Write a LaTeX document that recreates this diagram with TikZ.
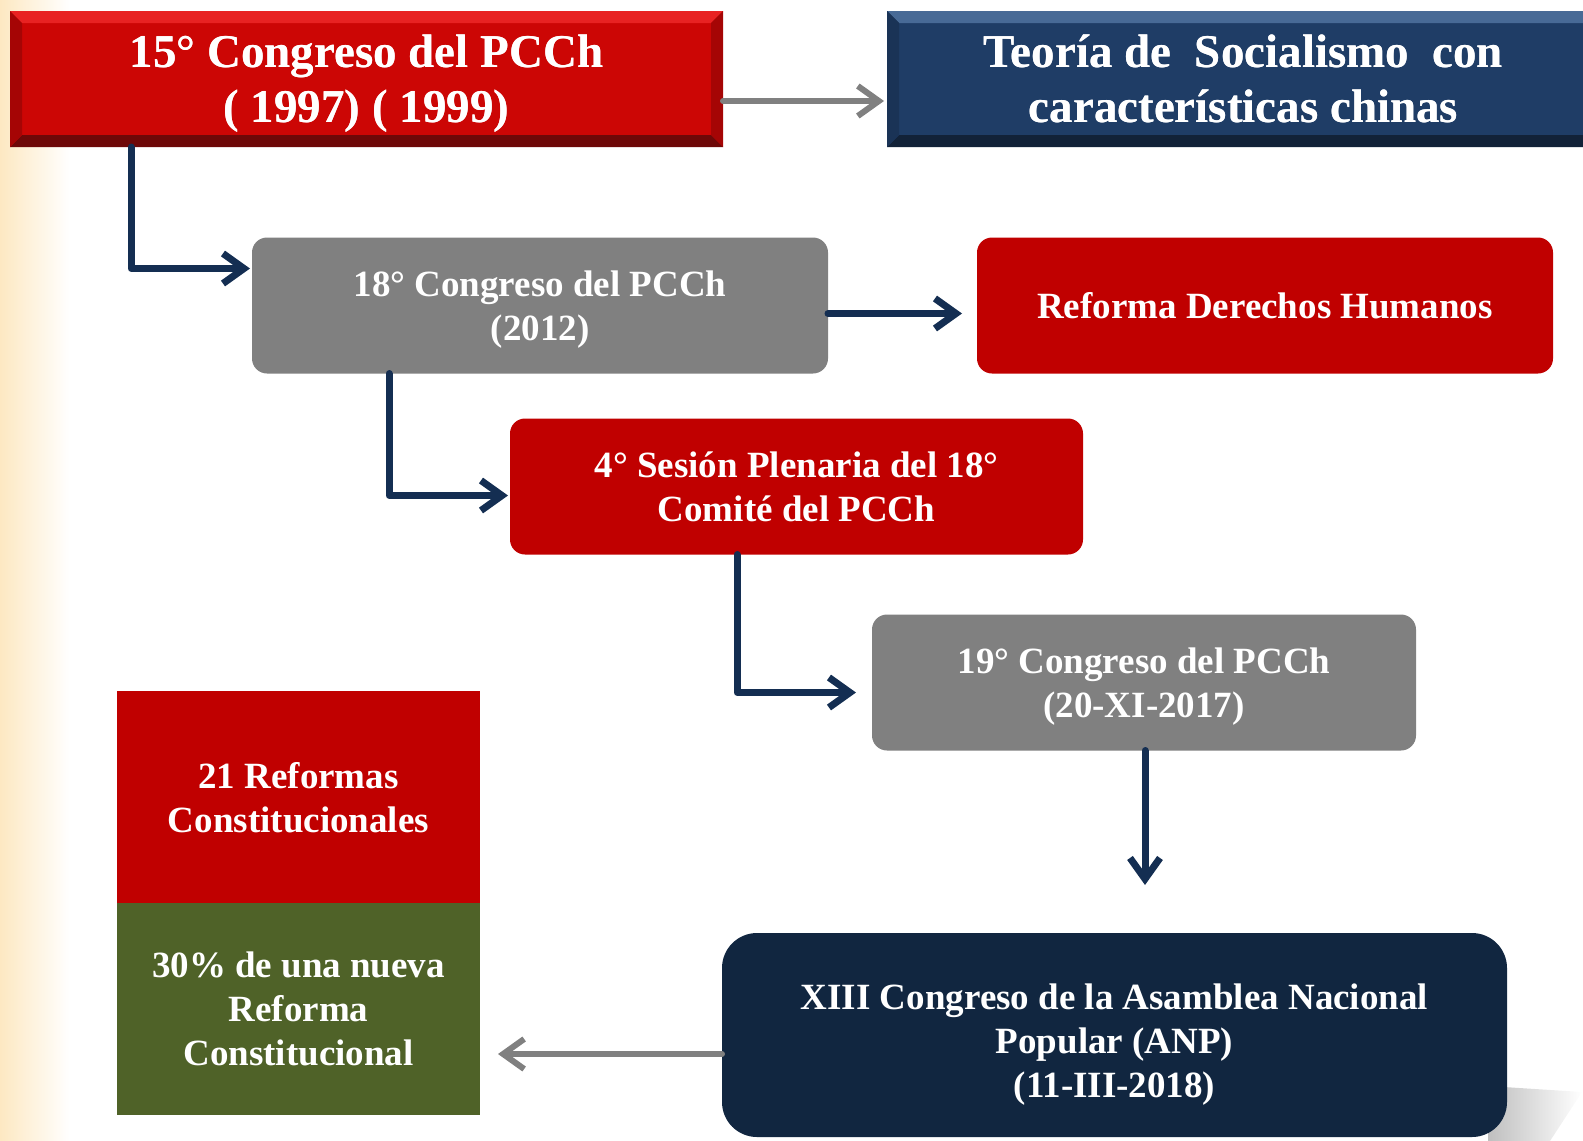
\documentclass[tikz,border=0pt]{standalone}
\usepackage{fontspec}
\setmainfont{Liberation Serif}
\usetikzlibrary{arrows.meta}

\definecolor{rojoVivo}{RGB}{204,6,5}
\definecolor{rojoClaro}{RGB}{232,34,34}
\definecolor{rojoOscuro}{RGB}{110,8,8}
\definecolor{rojoLado}{RGB}{165,5,5}
\definecolor{azulCaja}{RGB}{31,61,102}
\definecolor{azulClaro}{RGB}{72,106,150}
\definecolor{azulOscuro}{RGB}{18,34,56}
\definecolor{azulLado}{RGB}{26,51,86}
\definecolor{rojoCaja}{RGB}{192,0,0}
\definecolor{grisCaja}{RGB}{128,128,128}
\definecolor{marino}{RGB}{17,38,64}
\definecolor{verdeCaja}{RGB}{79,98,40}
\definecolor{azulFlecha}{RGB}{20,46,82}
\definecolor{grisFlecha}{RGB}{128,128,128}
\definecolor{crema}{RGB}{253,232,194}

% bisel de cuatro lados alrededor de un nodo
\newcommand{\biselar}[4]{%
    \fill[#2] (#1.north west) -- (#1.north east)
        -- ([shift={(-12pt,-12pt)}]#1.north east)
        -- ([shift={(12pt,-12pt)}]#1.north west) -- cycle;
    \fill[#3] (#1.south west) -- (#1.south east)
        -- ([shift={(-12pt,12pt)}]#1.south east)
        -- ([shift={(12pt,12pt)}]#1.south west) -- cycle;
    \fill[#4] (#1.north west) -- ([shift={(12pt,-12pt)}]#1.north west)
        -- ([shift={(12pt,12pt)}]#1.south west) -- (#1.south west) -- cycle;
    \fill[#4] (#1.north east) -- ([shift={(-12pt,-12pt)}]#1.north east)
        -- ([shift={(-12pt,12pt)}]#1.south east) -- (#1.south east) -- cycle;
}

\begin{document}
\begin{tikzpicture}[
    x=1pt,
    y=-1pt,
    caja/.style={
        rectangle,
        text=white,
        align=center,
        inner sep=0pt,
        outer sep=0pt,
        text depth=0pt,
        font=\bfseries\fontsize{37}{44}\selectfont
    },
    biselada/.style={
        caja,
        minimum width=713pt,
        minimum height=136pt,
        font=\bfseries\fontsize{47}{55}\selectfont
    },
    redondeada/.style={
        caja,
        rounded corners=15pt,
        minimum height=136pt
    },
    bloque/.style={
        caja,
        minimum width=363pt,
        minimum height=212pt
    },
    flecha/.style={
        line width=7pt,
        draw=azulFlecha,
        line join=round,
        line cap=round,
        -{Straight Barb[length=21pt,width=30pt]}
    },
    flechagris/.style={
        flecha,
        line width=6pt,
        draw=grisFlecha
    }
]
    \useasboundingbox (0,0) rectangle (1583,1141);

    % franja de fondo
    \shade[left color=crema, right color=white] (0,0) rectangle (70,1141);

    % sombra de la caja inferior
    \shade[left color=black!25, right color=white]
        (1488,1086) -- (1582,1092) -- (1550,1141) -- (1488,1141) -- cycle;

    \node[biselada, fill=rojoVivo] (cong15) at (366.5,79)
        {15° Congreso del PCCh\\
         ( 1997) ( 1999)};
    \node[biselada, fill=azulCaja] (teoria) at (1243.5,79)
        {Teoría de\ \ Socialismo\ \ con\\
         características chinas};
    \biselar{cong15}{rojoClaro}{rojoOscuro}{rojoLado}
    \biselar{teoria}{azulClaro}{azulOscuro}{azulLado}
    \node[biselada, fill=none] at (366.5,79)
        {15° Congreso del PCCh\\
         ( 1997) ( 1999)};
    \node[biselada, fill=none] at (1243.5,79)
        {Teoría de\ \ Socialismo\ \ con\\
         características chinas};

    \node[redondeada, fill=grisCaja, minimum width=576pt] (cong18) at (540,305.5)
        {18° Congreso del PCCh\\
         (2012)};
    \node[redondeada, fill=rojoCaja, minimum width=576pt] (reforma) at (1265,305.5)
        {Reforma Derechos Humanos};
    \node[redondeada, fill=rojoCaja, minimum width=573pt] (sesion) at (796.5,486.5)
        {4° Sesión Plenaria del 18°\\
         Comité del PCCh};
    \node[redondeada, fill=grisCaja, minimum width=544pt] (cong19) at (1144,682.5)
        {19° Congreso del PCCh\\
         (20-XI-2017)};

    \node[caja, fill=marino, rounded corners=35pt, text height=125pt,
          minimum width=785pt, minimum height=204pt] (xiii) at (1114.5,1035)
        {XIII Congreso de la Asamblea Nacional\\
         Popular (ANP)\\
         (11-III-2018)};

    \node[bloque, fill=rojoCaja] (reformas21) at (298.5,797)
        {21 Reformas\\
         Constitucionales};
    \node[bloque, fill=verdeCaja] (nueva30) at (298.5,1009)
        {30\% de una nueva\\
         Reforma\\
         Constitucional};

    \coordinate (punta) at (1145,885);

    \draw[flechagris] ([yshift=-22pt]cong15.east)
        -- ([shift={(-3pt,-22pt)}]teoria.west);
    \draw[flecha] ([xshift=121pt]cong15.south west)
        |- ([shift={(-2pt,37pt)}]cong18.west);
    \draw[flecha] ([yshift=-8pt]cong18.east)
        -- ([shift={(-15pt,-8pt)}]reforma.west);
    \draw[flecha] ([xshift=137pt]cong18.south west)
        |- ([shift={(-2pt,-9pt)}]sesion.west);
    \draw[flecha] ([xshift=227pt]sesion.south west)
        |- ([shift={(-16pt,-10pt)}]cong19.west);
    \draw[flecha] ([xshift=1pt]cong19.south) -- (punta);
    \draw[flechagris] ([yshift=-19pt]xiii.west)
        -- ([shift={(18pt,-45pt)}]nueva30.east);
\end{tikzpicture}
\end{document}
